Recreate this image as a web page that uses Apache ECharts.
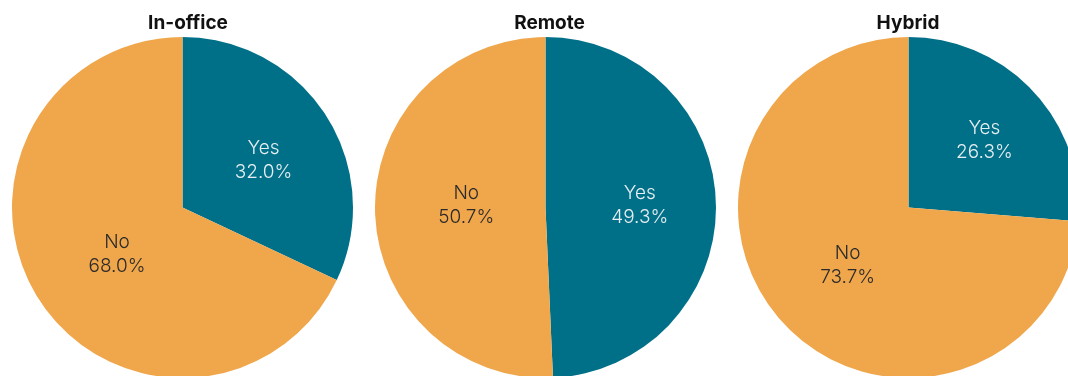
<!DOCTYPE html>
<html>
<head>
<meta charset="utf-8">
<script src="https://cdn.jsdelivr.net/npm/echarts@6/dist/echarts.min.js"></script>
<style>
  html, body { margin: 0; padding: 0; background: #ffffff; }
  #chart { width: 1068px; height: 376px; }
</style>
</head>
<body>
<div id="chart"></div>
<script>
// Share of respondents answering Yes / No, by work arrangement
const groups = ['In-office', 'Remote', 'Hybrid'];
const answers = ['Yes', 'No'];
const yesShare = [32.0, 49.3, 26.3];
const noShare = [68.0, 50.7, 73.7];

const colors = { Yes: '#006F88', No: '#F0A64B' };
const labelColors = { Yes: '#E6EEF1', No: '#2B2B2B' };

// Pie geometry (px)
const centersX = [182.5, 545.5, 908.5];
const centerY = 207.5;
const radius = 170.5;
const titleShift = [0.5, -1, -5.5];

// Nudges for the inside labels, [dx, dy] per pie per slice
const labelNudge = [
  [[6.5, 0], [9, -1]],
  [[6, -0.5], [9, -4]],
  [[11, -7], [4, -2]]
];

const chart = echarts.init(document.getElementById('chart'), null, { renderer: 'canvas' });

const series = groups.map((g, i) => ({
  type: 'pie',
  center: [centersX[i], centerY],
  radius: [0, radius],
  startAngle: 90,
  clockwise: true,
  avoidLabelOverlap: false,
  silent: true,
  animation: false,
  itemStyle: { borderWidth: 0 },
  label: {
    show: true,
    position: 'inside',
    formatter: p => p.name + '\n' + p.value.toFixed(1) + '%',
    fontFamily: 'Inter',
    fontWeight: 300,
    fontSize: 19,
    lineHeight: 24,
    align: 'center'
  },
  labelLine: { show: false },
  labelLayout: p => {
    const n = labelNudge[i][p.dataIndex];
    return { dx: n[0], dy: n[1] };
  },
  data: answers.map((a, k) => ({
    name: a,
    value: k === 0 ? yesShare[i] : noShare[i],
    itemStyle: { color: colors[a] },
    label: { color: labelColors[a] }
  }))
}));

const titles = groups.map((g, i) => ({
  text: g,
  left: centersX[i] + titleShift[i],
  top: 9,
  textAlign: 'center',
  textStyle: {
    fontFamily: 'Inter',
    fontWeight: 'bold',
    fontSize: 19,
    color: '#111111'
  }
}));

chart.setOption({
  backgroundColor: '#ffffff',
  title: titles,
  series: series
});
</script>
</body>
</html>
